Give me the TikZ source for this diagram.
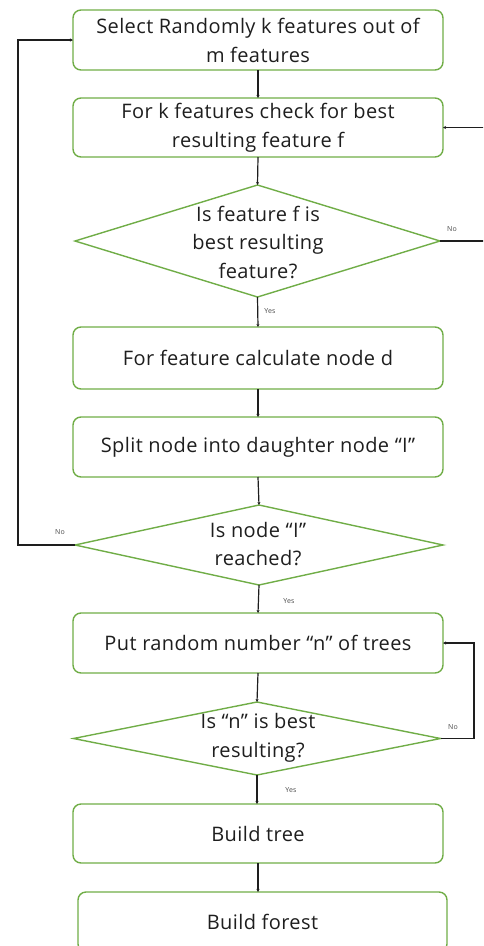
\documentclass[tikz,border=0pt]{standalone}
\usepackage{fontspec}
\setmainfont{Open Sans}[LetterSpace=2]
\usetikzlibrary{shapes.geometric,arrows.meta}
\definecolor{grn}{RGB}{112,173,71}
\definecolor{ink}{RGB}{30,30,30}
\begin{document}
\begin{tikzpicture}[x=1pt,y=-1pt,
 proc/.style={draw=grn, line width=1.4pt, rounded corners=8pt, minimum width=370pt, minimum height=60pt, inner sep=0pt, outer sep=0pt, align=center, text=ink, font=\fontsize{20}{29}\selectfont},
 dec/.style={draw=grn, line width=1.4pt, shape=diamond, inner sep=0pt, outer sep=0pt},
 dtxt/.style={align=center, text=ink, inner sep=0pt, font=\fontsize{20}{28.5}\selectfont},
 flow/.style={draw=ink, line width=1.2pt, -{Stealth[length=3pt,width=3pt]}},
 lab/.style={font=\fontsize{7}{8}\selectfont, text=ink!80, inner sep=0pt}]
\useasboundingbox (0,0) rectangle (483,946);
\clip (0,0) rectangle (483,946);
\node[proc] (b1) at (258,40) {Select Randomly k features out of\\m features};
\node[proc, minimum height=59pt] (b2) at (258,127.5) {For k features check for best\\resulting feature f};
\node[dec, minimum width=365pt, minimum height=112pt] (d1) at (257.5,241) {};
\node[dtxt] (t1) at (258,242) {Is feature f is\\best resulting\\feature?};
\node[proc, minimum height=62pt] (b3) at (258,358) {For feature calculate node d};
\node[proc] (b4) at (258,447) {Split node into daughter node “I”};
\node[dec, minimum width=368pt, minimum height=80pt] (d2) at (259,545) {};
\node[dtxt] (t2) at (258,544) {Is node “I”\\reached?};
\node[proc] (b5) at (258,643) {Put random number “n” of trees};
\node[dec, minimum width=367pt, minimum height=73pt] (d3) at (257,738.5) {};
\node[dtxt] (t3) at (258,738) {Is “n” is best\\resulting?};
\node[proc, minimum height=59pt] (b6) at (258,833.5) {Build tree};
\node[proc, minimum width=369pt] (b7) at (262.5,922) {Build forest};

\draw[flow] (b1.south) -- (b2.north);
\draw[flow] (b2.south) -- (d1.north);
\draw[flow] (d1.south) -- (b3.north);
\draw[flow] (b3.south) -- (b4.north);
\draw[flow] (b4.south) -- (d2.north);
\draw[flow] (d2.south) -- (b5.north);
\draw[flow] (b5.south) -- (d3.north);
\draw[flow] (d3.south) -- (d3.south |- b6.north);
\draw[flow] (b6.south) -- (b6.south |- b7.north);

\coordinate (r1) at (490,241);
\coordinate (l2) at (18,545);
\coordinate (r3) at (474,738.5);
\draw[flow] (d1.east) -- (r1) |- (b2.east);
\draw[flow] (d2.west) -- (l2) |- (b1.west);
\draw[flow] (d3.east) -- (r3) |- (b5.east);

\node[lab] (n1) at (452,229) {No};
\node[lab] (y1) at (270,311) {Yes};
\node[lab] (n2) at (60,532) {No};
\node[lab] (y2) at (289,601) {Yes};
\node[lab] (n3) at (453,727) {No};
\node[lab] (y3) at (291,790) {Yes};
\end{tikzpicture}
\end{document}
